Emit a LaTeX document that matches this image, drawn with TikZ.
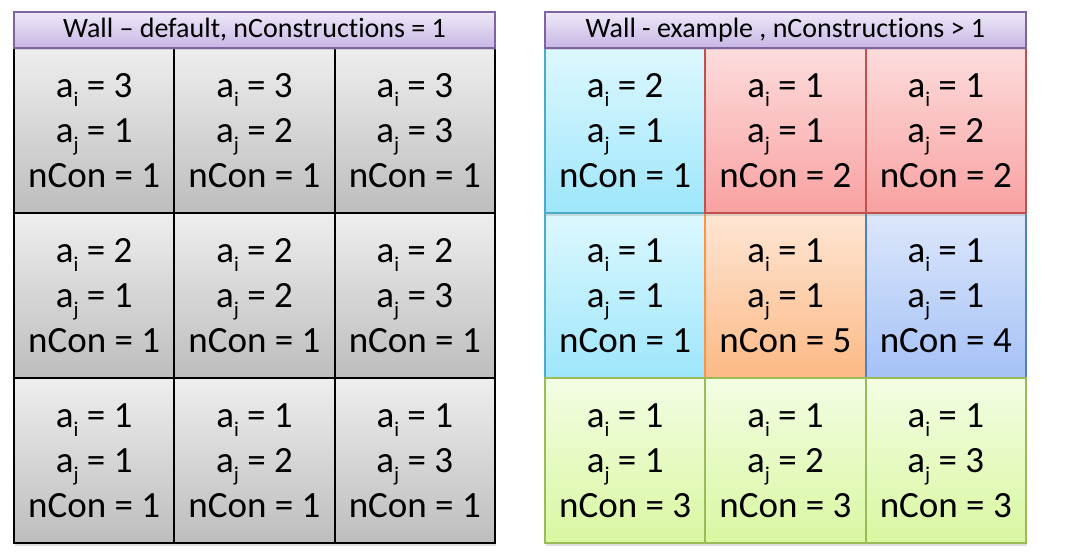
\documentclass[tikz,border=0pt]{standalone}
\usepackage{fontspec}
\setmainfont{Carlito}[Ligatures={NoCommon}]
\usetikzlibrary{shadows}
\definecolor{grayT}{HTML}{EEEEEE}
\definecolor{grayB}{HTML}{BDBDBD}
\definecolor{purT}{HTML}{EFE9F8}
\definecolor{purB}{HTML}{C7B6E5}
\definecolor{purD}{HTML}{8064A2}
\definecolor{cyaT}{HTML}{DDF8FE}
\definecolor{cyaB}{HTML}{9EE6FB}
\definecolor{cyaD}{HTML}{4BACC6}
\definecolor{redT}{HTML}{FDDCDC}
\definecolor{redB}{HTML}{F9A1A1}
\definecolor{redD}{HTML}{C0504D}
\definecolor{oraT}{HTML}{FEE6D4}
\definecolor{oraB}{HTML}{FCB985}
\definecolor{oraD}{HTML}{F79646}
\definecolor{bluT}{HTML}{DDE7FB}
\definecolor{bluB}{HTML}{A4C1F6}
\definecolor{bluD}{HTML}{4F81BD}
\definecolor{greT}{HTML}{F3FDE3}
\definecolor{greB}{HTML}{D9F7A1}
\definecolor{greD}{HTML}{9BBB59}
\newcommand\subsc[1]{\raisebox{-0.24em}{\fontsize{21}{21}\selectfont #1}}
\newcommand\cell[3]{a\subsc{i} = #1\\a\subsc{j} = #2\\nCon = #3}
\begin{document}
\begin{tikzpicture}[x=1pt,y=-1pt,
  cellbox/.style={rectangle, minimum width=160.3pt, minimum height=165pt,
    inner sep=0pt, align=center, font=\fontsize{37}{45}\selectfont,
    line width=2pt,
    drop shadow={shadow xshift=1.2pt, shadow yshift=-2.5pt, opacity=0.25}},
  graycell/.style={cellbox, draw=black, line width=2.2pt, top color=grayT, bottom color=grayB},
  cyancell/.style={cellbox, draw=cyaD, top color=cyaT, bottom color=cyaB},
  redcell/.style={cellbox, draw=redD, top color=redT, bottom color=redB},
  orangecell/.style={cellbox, draw=oraD, top color=oraT, bottom color=oraB},
  bluecell/.style={cellbox, draw=bluD, top color=bluT, bottom color=bluB},
  greencell/.style={cellbox, draw=greD, top color=greT, bottom color=greB},
  titlebox/.style={rectangle, minimum width=481pt, minimum height=36pt,
    inner sep=0pt, draw=purD, line width=2pt, top color=purT, bottom color=purB,
    font=\fontsize{28}{30}\selectfont,
    drop shadow={shadow xshift=1.2pt, shadow yshift=-2.5pt, opacity=0.25}},
  celltext/.style={text height=0pt, text depth=0pt}]
\useasboundingbox (0,0) rectangle (1075,556);
% left wall
\node[graycell] (L11) at (94.2,130.5) {\cell{3}{1}{1}};
\node[graycell] (L12) at (254.5,130.5) {\cell{3}{2}{1}};
\node[graycell] (L13) at (414.8,130.5) {\cell{3}{3}{1}};
\node[graycell] (L21) at (94.2,295.5) {\cell{2}{1}{1}};
\node[graycell] (L22) at (254.5,295.5) {\cell{2}{2}{1}};
\node[graycell] (L23) at (414.8,295.5) {\cell{2}{3}{1}};
\node[graycell] (L31) at (94.2,460.5) {\cell{1}{1}{1}};
\node[graycell] (L32) at (254.5,460.5) {\cell{1}{2}{1}};
\node[graycell] (L33) at (414.8,460.5) {\cell{1}{3}{1}};
\node[titlebox] (TL) at (254.5,30) {Wall – default, nConstructions = 1};
% right wall
\node[cyancell] (R21) at (625.2,295.5) {\cell{1}{1}{1}};
\node[orangecell] (R22) at (785.5,295.5) {\cell{1}{1}{5}};
\node[bluecell] (R23) at (945.8,295.5) {\cell{1}{1}{4}};
\node[cyancell] (R11) at (625.2,130.5) {\cell{2}{1}{1}};
\node[redcell] (R12) at (785.5,130.5) {\cell{1}{1}{2}};
\node[redcell] (R13) at (945.8,130.5) {\cell{1}{2}{2}};
\node[greencell] (R31) at (625.2,460.5) {\cell{1}{1}{3}};
\node[greencell] (R32) at (785.5,460.5) {\cell{1}{2}{3}};
\node[greencell] (R33) at (945.8,460.5) {\cell{1}{3}{3}};
\node[titlebox] (TR) at (785.5,30) {Wall - example , nConstructions > 1};
\end{tikzpicture}
\end{document}
